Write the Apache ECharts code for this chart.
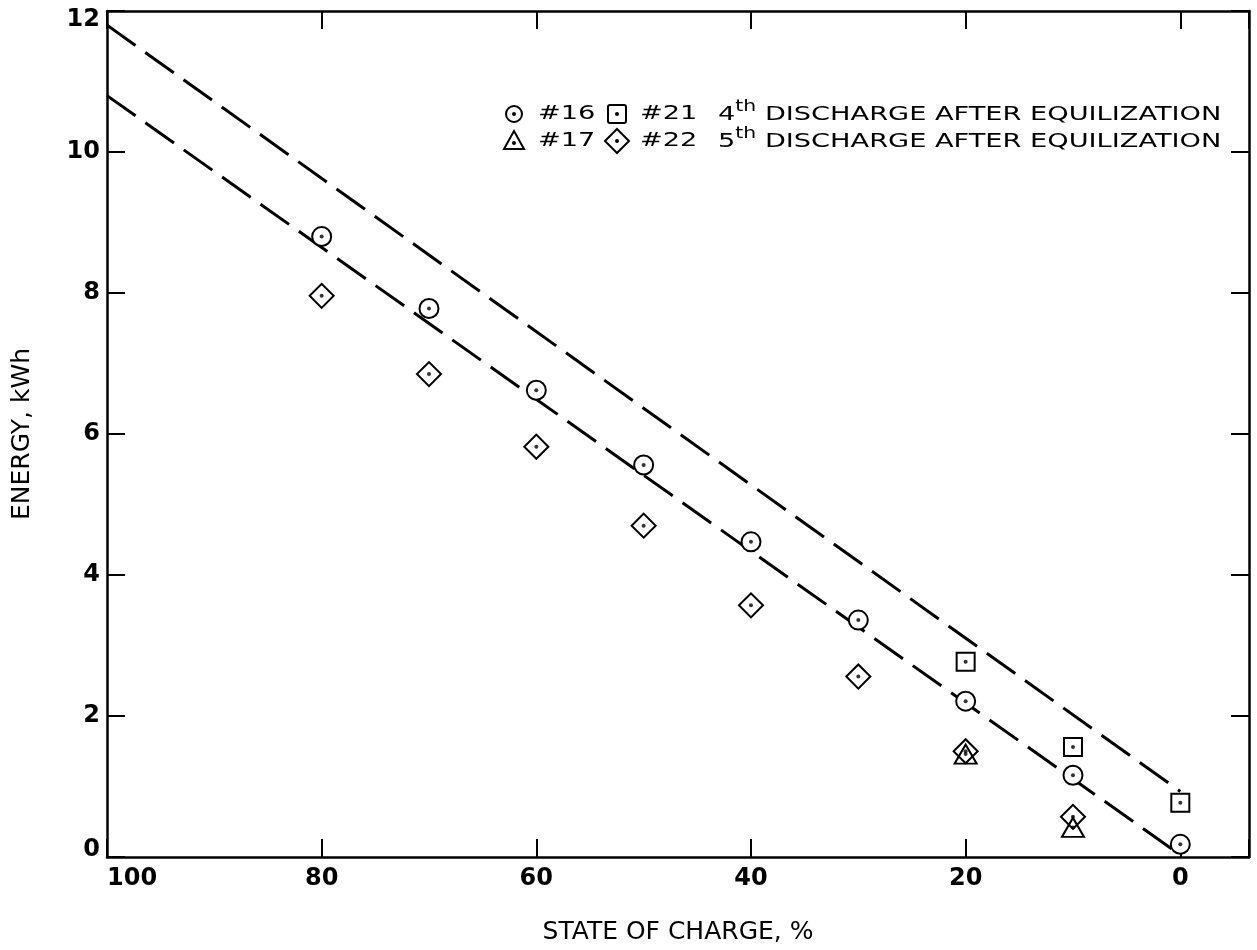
<!DOCTYPE html>
<html>
<head>
<meta charset="utf-8">
<title>Energy vs state of charge</title>
<script src="https://cdn.jsdelivr.net/npm/echarts@6/dist/echarts.min.js"></script>
<style>
  html, body { margin: 0; padding: 0; background: #fff; }
  #chart { width: 1257px; height: 950px; }
</style>
</head>
<body>
<div id="chart"></div>
<script>
var soc16 = [80, 70, 60, 50, 40, 30, 20, 10, 0];
var energy16 = [8.8, 7.78, 6.62, 5.56, 4.47, 3.36, 2.21, 1.16, 0.18];
var soc21 = [20, 10, 0];
var energy21 = [2.77, 1.56, 0.77];
var soc17 = [20, 10];
var energy17 = [1.46, 0.42];
var soc22 = [80, 70, 60, 50, 40, 30, 20, 10];
var energy22 = [7.96, 6.85, 5.82, 4.7, 3.57, 2.56, 1.5, 0.57];

// the two dashed lines
var upperSoc = [100, 0];
var upperEnergy = [11.8, 0.93];
var lowerSoc = [100, 0];
var lowerEnergy = [10.8, 0.03];

var FONT = "DejaVu Sans";

function pairs(xs, ys) {
  return xs.map(function (x, i) { return [x, ys[i]]; });
}

// hollow marker with a dot in the middle = two scatter series
function markerSeries(name, xs, ys, symbol, size, rotate, fill) {
  var d = pairs(xs, ys);
  return [
    {
      name: name,
      type: "scatter",
      xAxisIndex: 0, yAxisIndex: 0,
      data: d,
      symbol: symbol,
      symbolSize: size,
      symbolRotate: rotate,
      itemStyle: { color: fill, borderColor: "#000", borderWidth: 2, opacity: 1 },
      z: 5
    },
    {
      name: name + " dot",
      type: "scatter",
      xAxisIndex: 0, yAxisIndex: 0,
      data: d,
      symbol: "circle",
      symbolSize: 4,
      itemStyle: { color: "#000" },
      z: 6
    }
  ];
}

function dashLine(xs, ys) {
  return {
    type: "line",
    xAxisIndex: 0, yAxisIndex: 0,
    data: pairs(xs, ys),
    showSymbol: false,
    symbol: "none",
    lineStyle: { color: "#000", width: 3, type: [35, 12] },
    z: 3
  };
}

var chart = echarts.init(document.getElementById("chart"));

var axisLine = { show: true, onZero: false, lineStyle: { color: "#000", width: 2.5 } };
var tick = { show: true, inside: true, length: 18, lineStyle: { color: "#000", width: 2 } };
var labelStyle = { color: "#000", fontFamily: FONT, fontSize: 24, fontWeight: "bold" };

var legendText = { fontFamily: FONT, fontSize: 20, fill: "#000", verticalAlign: "middle", align: "left" };

function txt(x, y, s, rich) {
  var st = Object.assign({ text: s }, legendText);
  if (rich) st.rich = rich;
  return { type: "text", x: x, y: y, scaleX: 1.36, style: st, z: 10 };
}

var supRich = {
  n: { fontFamily: FONT, fontSize: 20, color: "#000", lineHeight: 25, verticalAlign: "bottom" },
  s: { fontFamily: FONT, fontSize: 15, color: "#000", lineHeight: 15, verticalAlign: "top" }
};

var option = {
  backgroundColor: "#fff",
  animation: false,
  grid: { left: 107, right: 8, top: 11, bottom: 92, containLabel: false },
  xAxis: [
    {
      type: "value",
      inverse: true,
      min: -6.4,
      max: 100,
      splitNumber: 5,
      position: "bottom",
      name: "STATE OF CHARGE, %",
      nameLocation: "middle",
      nameGap: 63,
      nameTextStyle: { color: "#000", fontFamily: FONT, fontSize: 25 },
      axisLine: axisLine,
      axisTick: tick,
      splitLine: { show: false },
      axisLabel: Object.assign({
        margin: 10,
        alignMaxLabel: "left",
        formatter: function (v) { return v % 20 === 0 ? String(v) : ""; }
      }, labelStyle)
    },
    {
      type: "value",
      inverse: true,
      min: -6.4,
      max: 100,
      splitNumber: 5,
      position: "top",
      axisLine: axisLine,
      axisTick: tick,
      splitLine: { show: false },
      axisLabel: { show: false }
    }
  ],
  yAxis: [
    {
      type: "value",
      min: 0,
      max: 12,
      interval: 2,
      position: "left",
      name: "ENERGY, kWh",
      nameLocation: "middle",
      nameGap: 72,
      nameRotate: 90,
      nameTextStyle: { color: "#000", fontFamily: FONT, fontSize: 25 },
      axisLine: axisLine,
      axisTick: tick,
      splitLine: { show: false },
      axisLabel: Object.assign({
        margin: 7,
        // the end labels sit a little inside the frame
        formatter: function (v) {
          if (v === 12) return "{hi|12}";
          if (v === 0) return "{lo|0}";
          return String(v);
        },
        rich: {
          hi: { fontFamily: FONT, fontSize: 24, fontWeight: "bold", color: "#000", padding: [18, 0, 0, 0] },
          lo: { fontFamily: FONT, fontSize: 24, fontWeight: "bold", color: "#000", padding: [0, 0, 14, 0] }
        }
      }, labelStyle)
    },
    {
      type: "value",
      min: 0,
      max: 12,
      interval: 2,
      position: "right",
      axisLine: axisLine,
      axisTick: tick,
      splitLine: { show: false },
      axisLabel: { show: false }
    }
  ],
  graphic: [
    // legend, row 1
    { type: "circle", shape: { cx: 514, cy: 114, r: 8 }, style: { fill: "#fff", stroke: "#000", lineWidth: 2 }, z: 10 },
    { type: "circle", shape: { cx: 514, cy: 114, r: 2 }, style: { fill: "#000" }, z: 11 },
    txt(538, 114, "#16"),
    { type: "rect", shape: { x: 608, y: 105, width: 18, height: 18, r: 2 }, style: { fill: "#fff", stroke: "#000", lineWidth: 2 }, z: 10 },
    { type: "circle", shape: { cx: 617, cy: 114, r: 2 }, style: { fill: "#000" }, z: 11 },
    txt(640, 114, "#21"),
    txt(718, 112, "{n|4}{s|th}{n| DISCHARGE AFTER EQUILIZATION}", supRich),
    // legend, row 2
    { type: "polygon", shape: { points: [[514, 131], [524, 149], [504, 149]] }, style: { fill: "#fff", stroke: "#000", lineWidth: 2 }, z: 10 },
    { type: "circle", shape: { cx: 514, cy: 143, r: 2 }, style: { fill: "#000" }, z: 11 },
    txt(538, 141, "#17"),
    { type: "polygon", shape: { points: [[617, 129], [629, 141], [617, 153], [605, 141]] }, style: { fill: "#fff", stroke: "#000", lineWidth: 2 }, z: 10 },
    { type: "circle", shape: { cx: 617, cy: 141, r: 2 }, style: { fill: "#000" }, z: 11 },
    txt(640, 141, "#22"),
    txt(718, 139, "{n|5}{s|th}{n| DISCHARGE AFTER EQUILIZATION}", supRich)
  ],
  series: [].concat(
    [dashLine(upperSoc, upperEnergy), dashLine(lowerSoc, lowerEnergy)],
    markerSeries("#16", soc16, energy16, "circle", 19, 0, "#fff"),
    markerSeries("#21", soc21, energy21, "rect", 18, 0, "#fff"),
    markerSeries("#22", soc22, energy22, "rect", 17, 45, "rgba(255,255,255,0)"),
    markerSeries("#17", soc17, energy17, "triangle", [22, 19], 0, "rgba(255,255,255,0)")
  )
};

chart.setOption(option);
</script>
</body>
</html>
